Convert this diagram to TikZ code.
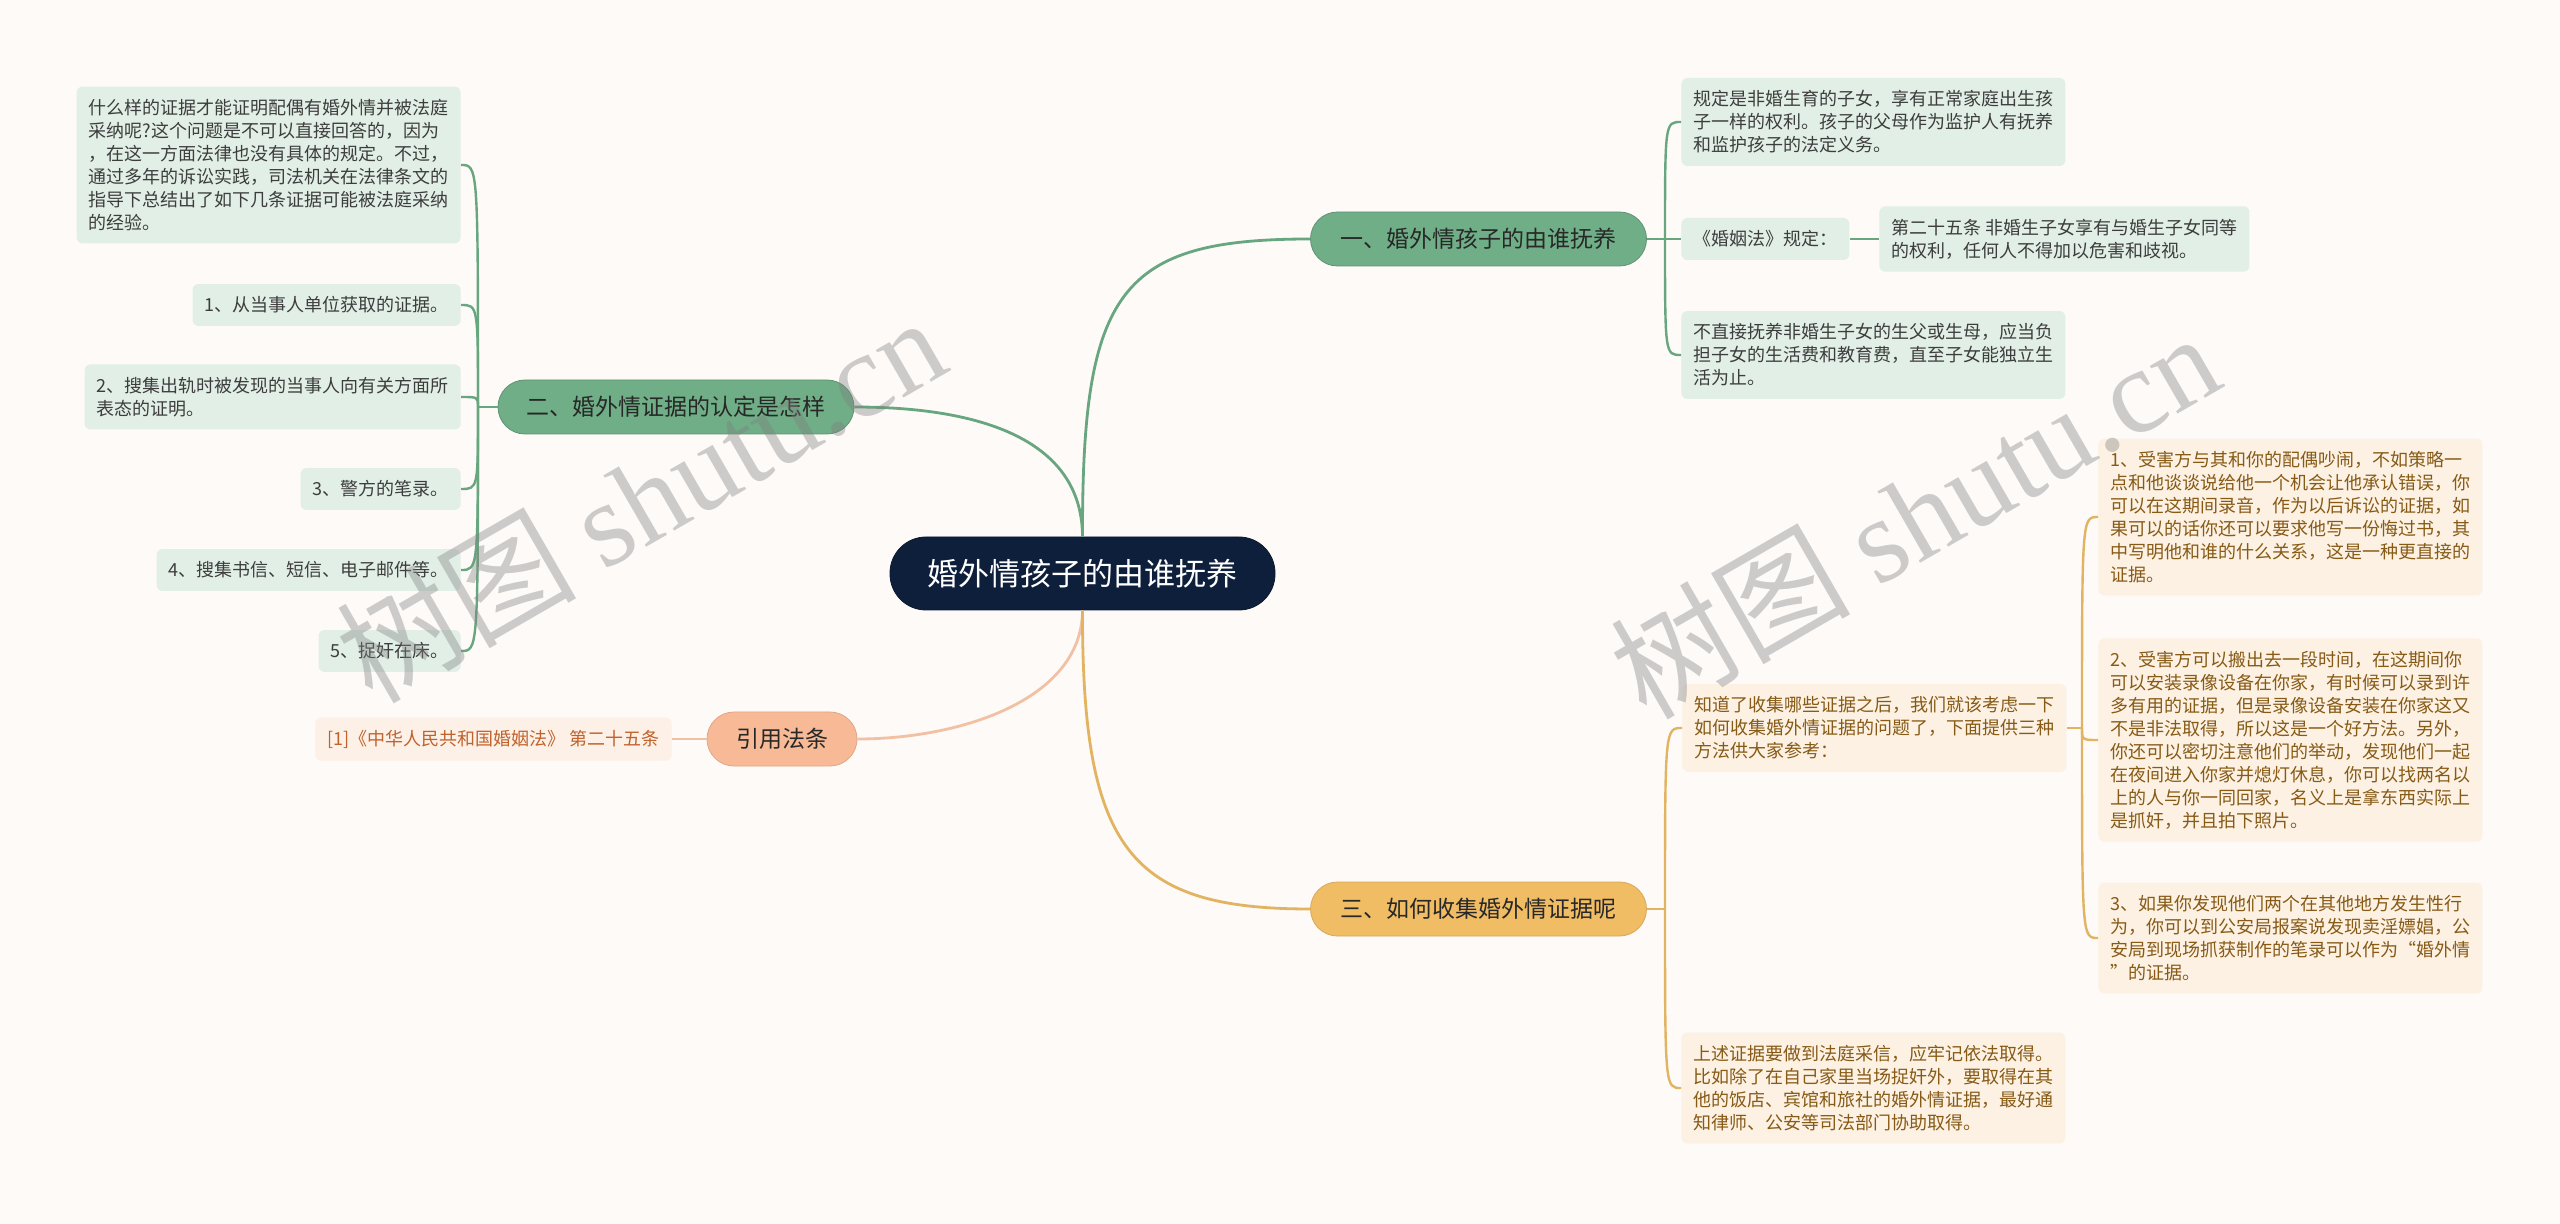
\documentclass[tikz,border=0pt]{standalone}
\usepackage{fontspec}
\setmainfont{Noto Sans CJK SC}
\newfontfamily\markfont{Liberation Serif}
\usepackage{tikz}
\usetikzlibrary{positioning,calc}
\definecolor{mPaper}{RGB}{253,250,248}
\definecolor{mNavy}{RGB}{14,31,59}
\definecolor{mGreen}{RGB}{111,174,134}
\definecolor{mGreenLine}{RGB}{104,166,128}
\definecolor{mGreenLight}{RGB}{225,239,230}
\definecolor{mGold}{RGB}{240,188,100}
\definecolor{mGoldLine}{RGB}{226,180,98}
\definecolor{mGoldLight}{RGB}{252,241,226}
\definecolor{mBrown}{RGB}{135,90,22}
\definecolor{mPeach}{RGB}{248,186,150}
\definecolor{mPeachLine}{RGB}{242,192,162}
\definecolor{mPeachLight}{RGB}{253,240,230}
\definecolor{mRust}{RGB}{192,98,44}
\definecolor{mInk}{RGB}{40,40,40}

\begin{document}
\begin{tikzpicture}[x=0.5pt,y=-0.5pt,
  mainnode/.style={fill=mNavy, draw=mNavy!80!black, rounded corners=18pt, minimum height=36.5pt,
    minimum width=192.5pt, inner sep=0pt, text=white, font=\fontsize{15.5}{18}\selectfont},
  pill/.style={rounded corners=13.5pt, minimum height=27pt, inner sep=0pt, text=mInk,
    font=\fontsize{11.5}{13}\selectfont},
  leaf/.style={rounded corners=3pt, align=left, inner xsep=6pt, inner ysep=6.3pt,
    font=\fontsize{9}{11.5}\selectfont},
  greenbranch/.style={pill, fill=mGreen, draw=mGreen!85!black},
  goldbranch/.style={pill, fill=mGold, draw=mGold!90!black},
  citebranch/.style={pill, fill=mPeach, draw=mPeach!90!black},
  greenleaf/.style={leaf, fill=mGreenLight, text=mInk!90},
  goldleaf/.style={leaf, fill=mGoldLight, text=mBrown},
  citeleaf/.style={leaf, fill=mPeachLight, text=mRust},
  gline/.style={draw=mGreenLine, line width=1.2pt},
  yline/.style={draw=mGoldLine, line width=1.2pt},
  sline/.style={draw=mPeachLine, line width=1.2pt},
  watermark/.style={rotate=30, text=gray, opacity=0.38, inner sep=0pt,
    font=\fontsize{60}{60}\selectfont}]
  % page
  \fill[mPaper] (0,0) rectangle (2560,1224);
  \useasboundingbox (0,0) rectangle (2560,1224);

  % centre and main branches
  \node[mainnode] (root) at (1082.5,573.5) {婚外情孩子的由谁抚养};
  \node[greenbranch, minimum width=168pt] (kids) at (1478.5,239) {一、婚外情孩子的由谁抚养};
  \node[greenbranch, minimum width=178pt] (proof) at (676,407) {二、婚外情证据的认定是怎样};
  \node[goldbranch, minimum width=168pt] (collect) at (1478.5,909) {三、如何收集婚外情证据呢};
  \node[citebranch, minimum width=75pt] (cite) at (782,739) {引用法条};

  % branch one
  \node[greenleaf, anchor=west] (kidsA) at (1681,122)
    {规定是非婚生育的子女，享有正常家庭出生孩\\子一样的权利。孩子的父母作为监护人有抚养\\和监护孩子的法定义务。};
  \node[greenleaf, anchor=west] (kidsB) at (1681,239) {《婚姻法》规定：};
  \node[greenleaf, anchor=west] (kidsLaw) at (1879,239)
    {第二十五条 非婚生子女享有与婚生子女同等\\的权利，任何人不得加以危害和歧视。};
  \node[greenleaf, anchor=west] (kidsC) at (1681,355)
    {不直接抚养非婚生子女的生父或生母，应当负\\担子女的生活费和教育费，直至子女能独立生\\活为止。};

  % branch two
  \node[greenleaf, anchor=east] (proofIntro) at (461,165)
    {什么样的证据才能证明配偶有婚外情并被法庭\\采纳呢?这个问题是不可以直接回答的，因为\\，在这一方面法律也没有具体的规定。不过，\\通过多年的诉讼实践，司法机关在法律条文的\\指导下总结出了如下几条证据可能被法庭采纳\\的经验。};
  \node[greenleaf, anchor=east] (proofA) at (461,305) {1、从当事人单位获取的证据。};
  \node[greenleaf, anchor=east] (proofB) at (461,397) {2、搜集出轨时被发现的当事人向有关方面所\\表态的证明。};
  \node[greenleaf, anchor=east] (proofC) at (461,489) {3、警方的笔录。};
  \node[greenleaf, anchor=east] (proofD) at (461,570) {4、搜集书信、短信、电子邮件等。};
  \node[greenleaf, anchor=east] (proofE) at (461,651) {5、捉奸在床。};

  % cited law
  \node[citeleaf, anchor=east] (citeA) at (672,739) {[1]《中华人民共和国婚姻法》 第二十五条};

  % branch three
  \node[goldleaf, anchor=west] (collectIntro) at (1682,728)
    {知道了收集哪些证据之后，我们就该考虑一下\\如何收集婚外情证据的问题了，下面提供三种\\方法供大家参考：};
  \node[goldleaf, anchor=west] (wayA) at (2098,517)
    {1、受害方与其和你的配偶吵闹，不如策略一\\点和他谈谈说给他一个机会让他承认错误，你\\可以在这期间录音，作为以后诉讼的证据，如\\果可以的话你还可以要求他写一份悔过书，其\\中写明他和谁的什么关系，这是一种更直接的\\证据。};
  \node[goldleaf, anchor=west] (wayB) at (2098,740)
    {2、受害方可以搬出去一段时间，在这期间你\\可以安装录像设备在你家，有时候可以录到许\\多有用的证据，但是录像设备安装在你家这又\\不是非法取得，所以这是一个好方法。另外，\\你还可以密切注意他们的举动，发现他们一起\\在夜间进入你家并熄灯休息，你可以找两名以\\上的人与你一同回家，名义上是拿东西实际上\\是抓奸，并且拍下照片。};
  \node[goldleaf, anchor=west] (wayC) at (2098,938)
    {3、如果你发现他们两个在其他地方发生性行\\为，你可以到公安局报案说发现卖淫嫖娼，公\\安局到现场抓获制作的笔录可以作为“婚外情\\”的证据。};
  \node[goldleaf, anchor=west] (collectNote) at (1681,1088)
    {上述证据要做到法庭采信，应牢记依法取得。\\比如除了在自己家里当场捉奸外，要取得在其\\他的饭店、宾馆和旅社的婚外情证据，最好通\\知律师、公安等司法部门协助取得。};

  % centre to branches
  \draw[gline, line width=1.4pt] (root.north) .. controls (1082,290) and (1120,239) .. (kids.west);
  \draw[gline, line width=1.4pt] (root.north) .. controls (1082,430) and (960,407) .. (proof.east);
  \draw[sline, line width=1.4pt] (root.south) .. controls (1082,700) and (960,739) .. (cite.east);
  \draw[yline, line width=1.4pt] (root.south) .. controls (1082,850) and (1130,909) .. (collect.west);

  % branch to leaves
  \coordinate (kidsT) at (1665,239);
  \draw[gline] (kids.east) -- (kidsT);
  \foreach \n in {kidsA,kidsB,kidsC}
    \draw[gline] (kidsT) .. controls (kidsT |- \n.west) and (kidsT |- \n.west) .. (\n.west);
  \draw[gline] (kidsB.east) -- (kidsLaw.west);

  \coordinate (proofT) at (478,407);
  \draw[gline] (proof.west) -- (proofT);
  \foreach \n in {proofIntro,proofA,proofB,proofC,proofD,proofE}
    \draw[gline] (proofT) .. controls (proofT |- \n.east) and (proofT |- \n.east) .. (\n.east);

  \draw[sline] (cite.west) -- (citeA.east);

  \coordinate (collectT) at (1665,909);
  \draw[yline] (collect.east) -- (collectT);
  \foreach \n in {collectIntro,collectNote}
    \draw[yline] (collectT) .. controls (collectT |- \n.west) and (collectT |- \n.west) .. (\n.west);

  \coordinate (wayT) at (2082,728);
  \draw[yline] (collectIntro.east) -- (wayT);
  \foreach \n in {wayA,wayB,wayC}
    \draw[yline] (wayT) .. controls (wayT |- \n.west) and (wayT |- \n.west) .. (\n.west);

  % watermark
  \node[watermark] (markL) at (640,498) {树图 {\markfont shutu.cn}};
  \node[watermark] (markR) at (1914,514) {树图 {\markfont shutu.cn}};
\end{tikzpicture}
\end{document}
